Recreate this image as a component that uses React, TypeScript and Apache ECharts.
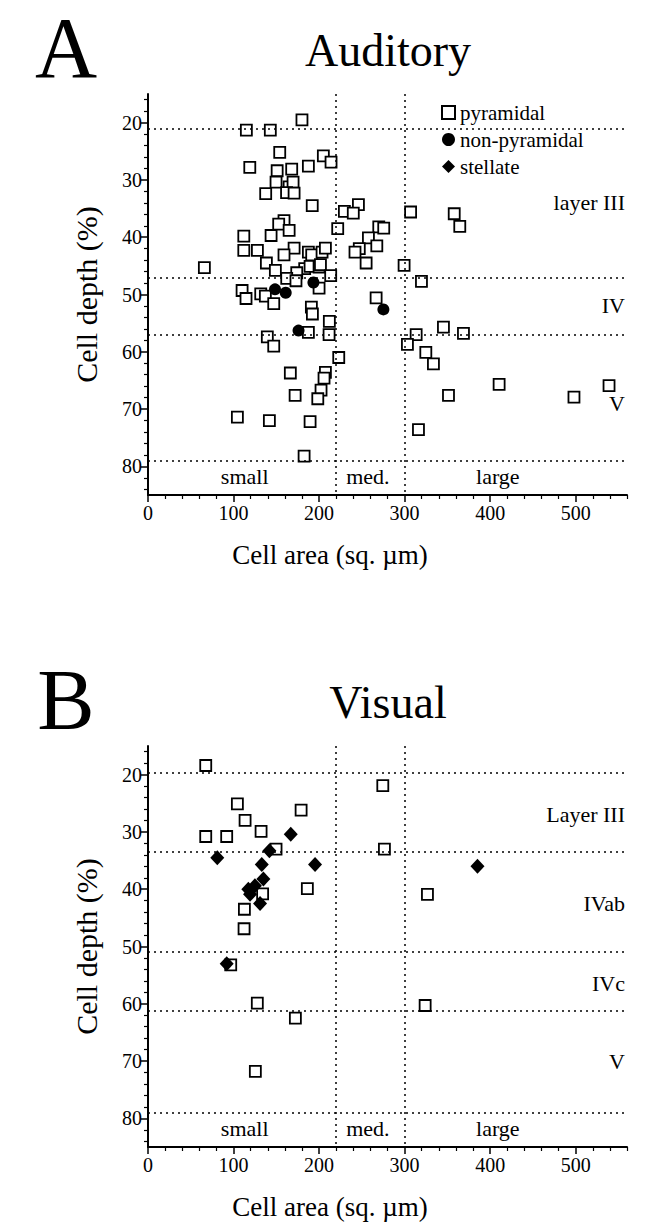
import React, { useEffect, useRef } from "react";
import * as echarts from "echarts";

const FONT = '"Liberation Serif", "Times New Roman", Times, serif';

// ---- tick values ----
const xMajorTicks = [0, 100, 200, 300, 400, 500];
const xMinorTicks = [20, 40, 60, 80, 120, 140, 160, 180, 220, 240, 260, 280, 320, 340, 360, 380, 420, 440, 460, 480, 520, 540, 560];
const yMajorTicks = [20, 30, 40, 50, 60, 70, 80];
const yMinorTicks = [16, 18, 22, 24, 26, 28, 32, 34, 36, 38, 42, 44, 46, 48, 52, 54, 56, 58, 62, 64, 66, 68, 72, 74, 76, 78, 82, 84];

// ---- A: Auditory ----
const auditoryPyramidal = [
  [115, 21.3], [143, 21.3], [180, 19.5],
  [154, 25.2], [205, 25.8], [214, 26.9], [187.5, 27.6], [119, 27.8], [151, 28.4], [168, 28.1],
  [149.7, 30.4], [165, 31.2], [169.6, 30.4], [162, 32.2], [170.8, 32.3], [137.6, 32.4],
  [192, 34.5], [159, 37.1], [152.8, 37.7], [165, 38.8], [143.9, 39.7], [112, 39.8], [112, 42.3], [127.9, 42.3],
  [170.8, 41.9], [159, 43.1], [187.5, 42.6], [191.4, 43.1], [203.5, 42.6], [207.4, 41.9],
  [65.9, 45.3], [138.4, 44.5], [148.9, 45.8], [183.2, 45.5], [189.5, 45.1], [200, 45.2], [201.6, 44.8],
  [173.9, 46.2], [162.2, 47.2], [173, 47.6], [213.6, 46.7], [200, 48.9],
  [110, 49.3], [114.6, 50.7], [131.8, 49.9], [137.2, 50.3], [147, 51.6], [191, 52.2], [192.2, 53.4], [212, 54.7],
  [187.5, 56.6], [211.7, 57.0], [139.5, 57.4], [147, 59.0], [223, 61.0], [166.4, 63.7], [207.4, 63.6], [205.8, 64.6],
  [202.3, 66.7], [198.5, 68.2], [172, 67.6], [104.5, 71.4], [141.9, 72.0], [189.5, 72.2], [182.5, 78.2],
  [246, 34.3], [229.6, 35.5], [240, 35.8], [221.8, 38.5], [269.8, 38.2], [275.6, 38.4], [257.7, 40.1], [267.5, 41.5],
  [247, 42.0], [242, 42.6], [255, 44.5], [307, 35.6], [358, 35.9], [364.5, 38.1], [299.4, 44.9], [319.7, 47.7], [266.7, 50.6],
  [345.4, 55.7], [313.5, 57.0], [368.8, 56.8], [303.3, 58.7], [324.8, 60.1], [333.7, 62.1], [410.5, 65.7], [351.3, 67.6],
  [316.2, 73.6], [498, 67.9], [539, 65.9],
];
const auditoryNonPyramidal = [[193.4, 47.9], [148.5, 49.1], [161, 49.7], [176, 56.3], [275.2, 52.6]];

// ---- B: Visual ----
const visualPyramidal = [
  [67.5, 18.4], [104.5, 25.1], [179, 26.2], [113.5, 28.0], [132.2, 29.9], [67.5, 30.8], [92, 30.8], [149.7, 33.0],
  [186.3, 39.9], [134, 40.8], [112.7, 43.5], [112.3, 46.9], [96.7, 53.2], [127.8, 59.9], [172.3, 62.5], [125.5, 71.8],
  [274.5, 21.9], [276.4, 33.0], [326.7, 40.9], [324, 60.3],
];
const visualStellate = [
  [166.9, 30.4], [141.9, 33.3], [81, 34.5], [195.3, 35.7], [133, 35.7], [134.9, 38.2], [125, 39.4], [117.3, 40.0],
  [119.3, 40.9], [131, 42.5], [92, 53.0], [385.2, 36.0],
];

// ---- boundaries & labels ----
const sizeBounds = [220, 300];
const auditoryLayerBounds = [21, 47, 57, 79];
const visualLayerBounds = [19.7, 33.5, 51, 61.2, 79];
const auditoryLayerNames: [string, number][] = [["layer III", 34], ["IV", 52], ["V", 69]];
const visualLayerNames: [string, number][] = [["Layer III", 27], ["IVab", 42.5], ["IVc", 56.5], ["V", 70]];
const sizeClassNames: [string, number][] = [["small", 113], ["med.", 257], ["large", 409]];
const sizeClassDepth = 81.8;
const panelTitles = ["Auditory", "Visual"];
const panelLetters = ["A", "B"];
const legendNames = ["pyramidal", "non-pyramidal", "stellate"];

// ---- geometry ----
const GRID_LEFT = 148;
const GRID_W = 479;
const GRID_H = 401;
const GRID_TOPS = [94, 746];
const X_MAX = 560;
const Y_MIN = 15;
const Y_MAX = 85;

const px = (g: number, x: number, y: number) => [
  GRID_LEFT + (x / X_MAX) * GRID_W,
  GRID_TOPS[g] + ((y - Y_MIN) / (Y_MAX - Y_MIN)) * GRID_H,
];

const dotted = { type: [2, 4] as any, color: "#000", width: 1.5 };

function axesFor(g: number) {
  const xMajor = {
    gridIndex: g, type: "value", min: 0, max: X_MAX, position: "bottom", offset: 0,
    axisLine: { show: true, onZero: false, lineStyle: { color: "#000", width: 2 } },
    axisTick: { show: true, customValues: xMajorTicks, length: 7, lineStyle: { color: "#000", width: 1.5 } },
    axisLabel: { customValues: xMajorTicks, color: "#000", fontFamily: FONT, fontSize: 20, margin: 8 },
    splitLine: { show: false },
  };
  const xMinor = {
    gridIndex: g, type: "value", min: 0, max: X_MAX, position: "bottom", offset: 0,
    axisLine: { show: false, onZero: false },
    axisTick: { show: true, customValues: xMinorTicks, length: 4, lineStyle: { color: "#000", width: 1.2 } },
    axisLabel: { show: false },
    splitLine: { show: false },
  };
  const yMajor = {
    gridIndex: g, type: "value", inverse: true, min: Y_MIN, max: Y_MAX, position: "left", offset: 0,
    axisLine: { show: true, onZero: false, lineStyle: { color: "#000", width: 2 } },
    axisTick: { show: true, customValues: yMajorTicks, length: 7, lineStyle: { color: "#000", width: 1.5 } },
    axisLabel: { customValues: yMajorTicks, color: "#000", fontFamily: FONT, fontSize: 20, margin: 6 },
    splitLine: { show: false },
  };
  const yMinor = {
    gridIndex: g, type: "value", inverse: true, min: Y_MIN, max: Y_MAX, position: "left", offset: 0,
    axisLine: { show: false, onZero: false },
    axisTick: { show: true, customValues: yMinorTicks, length: 4, lineStyle: { color: "#000", width: 1.2 } },
    axisLabel: { show: false },
    splitLine: { show: false },
  };
  return { x: [xMajor, xMinor], y: [yMajor, yMinor] };
}

const squareStyle = { color: "#fff", borderColor: "#000", borderWidth: 1.8, opacity: 1 };
const solidStyle = { color: "#000", opacity: 1 };

function boundLines(layers: number[]) {
  return {
    silent: true,
    symbol: ["none", "none"],
    label: { show: false },
    lineStyle: dotted,
    emphasis: { disabled: true },
    data: [...layers.map((v) => ({ yAxis: v })), ...sizeBounds.map((v) => ({ xAxis: v }))],
  };
}

function textEl(text: string, x: number, y: number, size: number, align = "center", rotation = 0) {
  return {
    type: "text", x, y, rotation, silent: true,
    style: { text, fill: "#000", font: `${size}px ${FONT}`, textAlign: align, textVerticalAlign: "middle" },
  };
}

export default function App() {
  const ref = useRef<HTMLDivElement>(null);
  useEffect(() => {
    if (!ref.current) return;
    const chart = echarts.init(ref.current, undefined, { renderer: "svg" });
    const a = axesFor(0);
    const b = axesFor(1);

    const graphics: any[] = [];
    [0, 1].forEach((g) => {
      const top = GRID_TOPS[g];
      graphics.push(textEl(panelLetters[g], 66, top - 46, 86));
      graphics.push(textEl(panelTitles[g], 388, top - 44, 46));
      graphics.push(textEl("Cell depth (%)", 86, top + GRID_H / 2, 30, "center", Math.PI / 2));
      graphics.push(textEl("Cell area (sq. \u00b5m)", 330, top + GRID_H + 60, 27));
      sizeClassNames.forEach(([t, x]) => {
        const p = px(g, x, sizeClassDepth);
        graphics.push(textEl(t, p[0], p[1], 22));
      });
      const names = g === 0 ? auditoryLayerNames : visualLayerNames;
      names.forEach(([t, y]) => {
        const p = px(g, X_MAX, y);
        graphics.push(textEl(t, p[0] - 2, p[1], 22, "right"));
      });
    });

    chart.setOption({
      animation: false,
      grid: GRID_TOPS.map((t) => ({ left: GRID_LEFT, top: t, width: GRID_W, height: GRID_H })),
      xAxis: [...a.x, ...b.x],
      yAxis: [...a.y, ...b.y],
      legend: {
        orient: "vertical", left: 436, top: 97, itemWidth: 13, itemHeight: 13, itemGap: 6,
        selectedMode: false,
        itemStyle: { opacity: 1 },
        textStyle: { fontFamily: FONT, fontSize: 21, color: "#000" },
        data: legendNames,
      },
      series: [
        {
          name: legendNames[0], type: "scatter", xAxisIndex: 0, yAxisIndex: 0,
          symbol: "rect", symbolSize: 11, itemStyle: squareStyle, data: auditoryPyramidal,
          markLine: boundLines(auditoryLayerBounds),
        },
        {
          name: legendNames[1], type: "scatter", xAxisIndex: 0, yAxisIndex: 0,
          symbol: "circle", symbolSize: 12, itemStyle: solidStyle, data: auditoryNonPyramidal, z: 3,
        },
        {
          name: legendNames[0], type: "scatter", xAxisIndex: 2, yAxisIndex: 2,
          symbol: "rect", symbolSize: 11, itemStyle: squareStyle, data: visualPyramidal,
          markLine: boundLines(visualLayerBounds),
        },
        {
          name: legendNames[2], type: "scatter", xAxisIndex: 2, yAxisIndex: 2,
          symbol: "diamond", symbolSize: [14, 15], itemStyle: solidStyle, data: visualStellate, z: 3,
        },
      ],
      graphic: graphics,
    });
    return () => chart.dispose();
  }, []);
  return <div ref={ref} style={{ position: "absolute", left: 0, top: 0, width: 666, height: 1224, background: "#fff" }} />;
}
